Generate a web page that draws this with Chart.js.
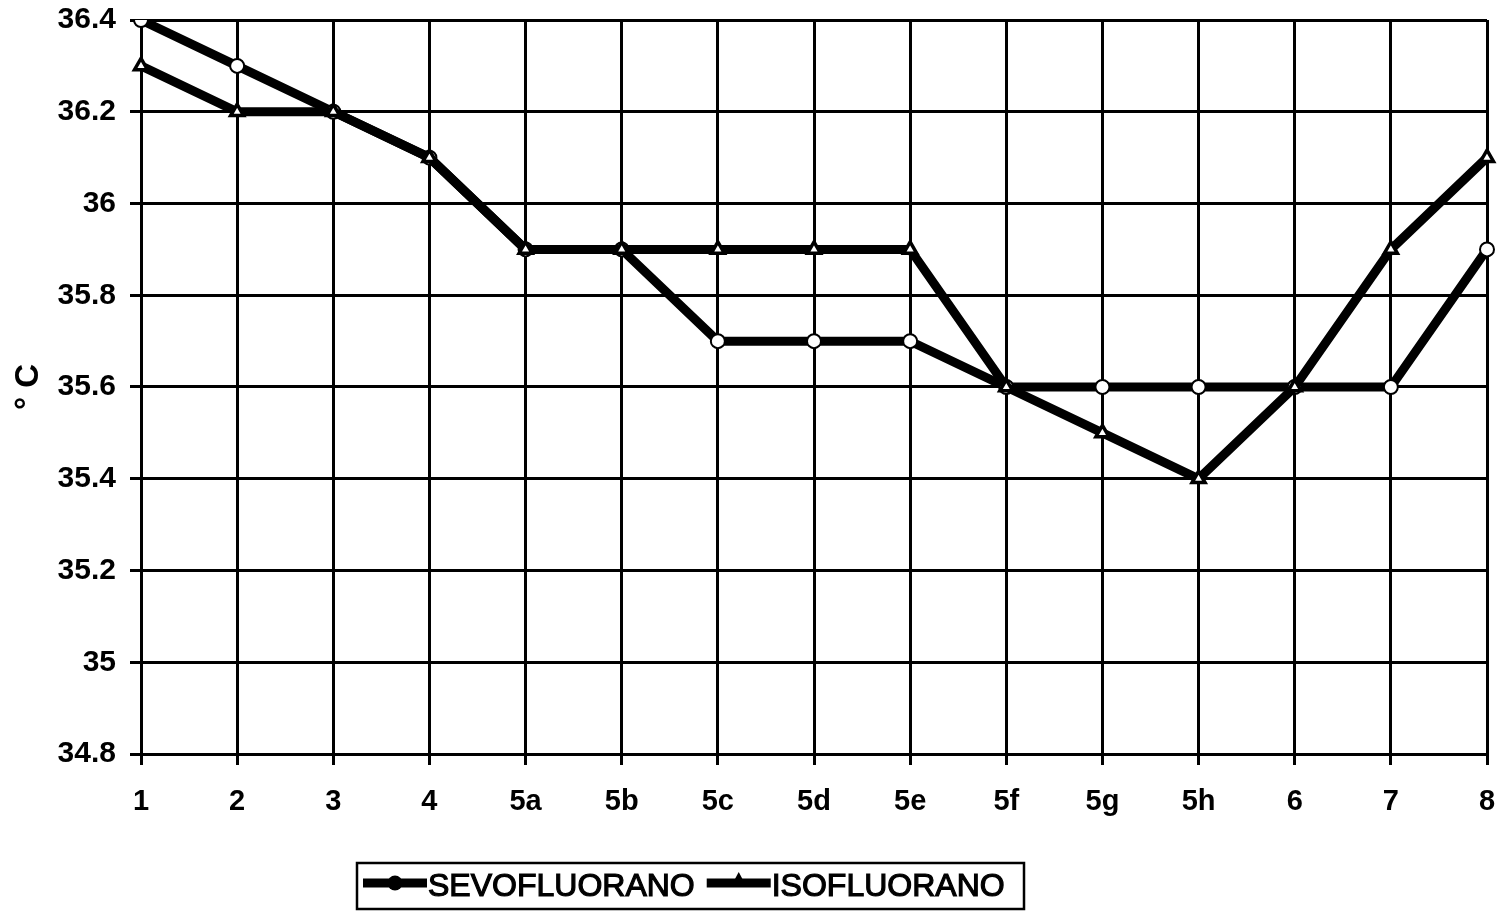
<!DOCTYPE html>
<html>
<head>
<meta charset="utf-8">
<script src="https://cdn.jsdelivr.net/npm/chart.js@4.4.1/dist/chart.umd.min.js"></script>
<style>
  html, body { margin: 0; padding: 0; background: #fff; }
  #wrap { width: 1505px; height: 911px; }
</style>
</head>
<body>
<div id="wrap"><canvas id="c" width="1505" height="911"></canvas></div>
<script>
// Measurement times and mean temperatures (°C)
const categories = ['1', '2', '3', '4', '5a', '5b', '5c', '5d', '5e', '5f', '5g', '5h', '6', '7', '8'];
const sevofluorano = [36.4, 36.3, 36.2, 36.1, 35.9, 35.9, 35.7, 35.7, 35.7, 35.6, 35.6, 35.6, 35.6, 35.6, 35.9];
const isofluorano  = [36.3, 36.2, 36.2, 36.1, 35.9, 35.9, 35.9, 35.9, 35.9, 35.6, 35.5, 35.4, 35.6, 35.9, 36.1];
const yTicks = [34.8, 35, 35.2, 35.4, 35.6, 35.8, 36, 36.2, 36.4];

const FONT = 'Arial, "Liberation Sans", sans-serif';

// Boxed legend under the plot: line sample with marker, then label
const boxedLegend = {
  id: 'boxedLegend',
  afterDraw(chart) {
    const ctx = chart.ctx;
    const box = { x: 357, y: 863, w: 667, h: 46 };
    ctx.save();
    ctx.strokeStyle = '#000';
    ctx.lineWidth = 2.5;
    ctx.strokeRect(box.x, box.y, box.w, box.h);
    ctx.font = '32px ' + FONT;
    ctx.textBaseline = 'middle';
    ctx.fillStyle = '#000';
    const cy = box.y + box.h / 2 + 1;
    let x = box.x + 6;
    chart.data.datasets.forEach((ds) => {
      const len = 64;
      ctx.lineWidth = 9;
      ctx.strokeStyle = '#000';
      ctx.beginPath();
      ctx.moveTo(x, cy - 4);
      ctx.lineTo(x + len, cy - 4);
      ctx.stroke();
      const mx = x + len / 2;
      ctx.fillStyle = '#000';
      ctx.beginPath();
      if (ds.pointStyle === 'triangle') {
        ctx.moveTo(mx, cy - 15);
        ctx.lineTo(mx + 8, cy);
        ctx.lineTo(mx - 8, cy);
        ctx.closePath();
      } else {
        ctx.arc(mx, cy - 4, 7.5, 0, Math.PI * 2);
      }
      ctx.fill();
      ctx.lineWidth = 1.2;
      ctx.fillText(ds.label, x + len + 1, cy);
      ctx.strokeText(ds.label, x + len + 1, cy);
      x += len + 1 + ctx.measureText(ds.label).width + 12;
    });
    ctx.restore();
  }
};

new Chart(document.getElementById('c'), {
  type: 'line',
  data: {
    labels: categories,
    datasets: [
      {
        label: 'SEVOFLUORANO',
        data: sevofluorano,
        borderColor: '#000',
        borderWidth: 9,
        pointStyle: 'circle',
        pointRadius: 7,
        pointBorderWidth: 2,
        pointBackgroundColor: '#fff',
        pointBorderColor: '#000',
        tension: 0,
        order: 1
      },
      {
        label: 'ISOFLUORANO',
        data: isofluorano,
        borderColor: '#000',
        borderWidth: 9,
        pointStyle: 'triangle',
        pointRadius: 7.5,
        pointBorderWidth: 3.5,
        pointBackgroundColor: '#fff',
        pointBorderColor: '#000',
        tension: 0,
        order: 0
      }
    ]
  },
  options: {
    responsive: false,
    animation: false,
    devicePixelRatio: 1,
    layout: { padding: { top: 20, right: 18, bottom: 0, left: 0 } },
    plugins: {
      legend: { display: false },
      tooltip: { enabled: false }
    },
    scales: {
      x: {
        type: 'category',
        offset: false,
        grid: { color: '#000', lineWidth: 3, tickLength: 11, drawTicks: true },
        border: { color: '#000', width: 3 },
        ticks: {
          color: '#000',
          padding: 20,
          autoSkip: false,
          maxRotation: 0,
          font: { family: FONT, size: 29, weight: 'bold' }
        },
        afterFit(scale) {
          scale.height = 157;
          scale.paddingLeft = 0;
          scale.paddingRight = 0;
        }
      },
      y: {
        type: 'linear',
        min: 34.8,
        max: 36.4,
        afterBuildTicks(scale) { scale.ticks = yTicks.map(v => ({ value: v })); },
        grid: { color: '#000', lineWidth: 3, tickLength: 11 },
        border: { color: '#000', width: 3 },
        ticks: {
          color: '#000',
          padding: 14,
          font: { family: FONT, size: 30, weight: 'bold' },
          callback: (v) => String(Math.round(v * 10) / 10)
        },
        title: {
          display: true,
          text: '° C',
          color: '#000',
          padding: { top: 9, bottom: 8 },
          font: { family: FONT, size: 33, weight: 'bold' }
        },
        afterFit(scale) {
          scale.width = 141;
          scale.paddingTop = 0;
          scale.paddingBottom = 0;
        }
      }
    }
  },
  plugins: [boxedLegend]
});
</script>
</body>
</html>
